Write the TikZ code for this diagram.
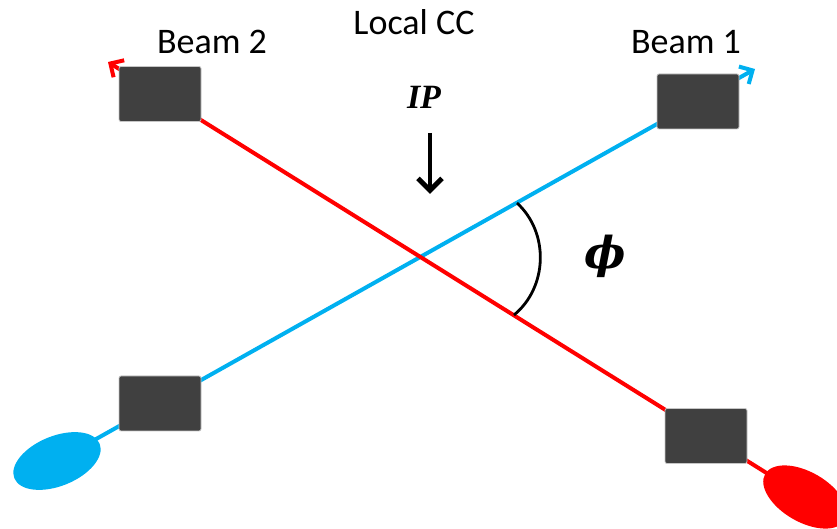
\documentclass[tikz,border=0pt]{standalone}
\usepackage{fontspec}
\usepackage{amsmath, amssymb}
\setmainfont{Carlito}
\newfontfamily\timesfont{Liberation Serif}
\newfontfamily\greekfont{DejaVu Serif}
\usepackage{tikz}
\usetikzlibrary{arrows.meta,shapes.geometric,backgrounds}

\definecolor{beamblue}{RGB}{0,176,240}
\definecolor{magnetgray}{RGB}{64,64,64}

\begin{document}
\begin{tikzpicture}[
  x=0.5pt, y=-0.5pt,
  font=\fontsize{18}{21}\selectfont,
  magnet/.style={draw=gray!45, line width=0.4pt, rounded corners=1pt, fill=magnetgray, minimum width=41pt, minimum height=27.5pt, inner sep=0pt},
  bunch/.style={ellipse, minimum width=46pt, minimum height=25pt, inner sep=0pt},
  beamline/.style={line width=2pt, -{Straight Barb[length=5pt,width=10pt,line width=2pt]}},
  iparr/.style={line width=2pt, -{Straight Barb[length=6pt,width=12pt,line width=2.5pt]}},
  anglearc/.style={line width=1.4pt},
]
\useasboundingbox (0,0) rectangle (837,529);

\node[magnet] (m2up) at (160,94) {};
\node[magnet] (m1up) at (698,101.5) {};
\node[magnet] (m1dn) at (160,403.5) {};
\node[magnet] (m2dn) at (706,436) {};
\node[bunch, fill=beamblue, rotate=22] (b1) at (57,461) {};
\node[bunch, fill=red, rotate=-30] (b2) at (805,497) {};
\coordinate (tip1) at (755,69);
\coordinate (tip2) at (108,62);

\begin{scope}[on background layer]
\draw[beamline, color=beamblue] (b1.center) -- (tip1);
\draw[beamline, color=red] (b2.center) -- (tip2);
\end{scope}

\node (beam2) at (212,42) {Beam 2};
\node (localcc) at (414,22) {Local CC};
\node (beam1) at (686,42) {Beam 1};
\node[font=\timesfont\bfseries\itshape\fontsize{17}{20}\selectfont] (ip) at (424,97) {IP};
\coordinate (ipfrom) at (430,133);
\coordinate (ipto) at (430,194);
\draw[iparr] (ipfrom) -- (ipto);

% crossing angle
\coordinate (arcb) at (517,203);
\coordinate (arcr) at (514,315);
\draw[anglearc] (arcb) to[bend left=49] (arcr);
\node[font=\greekfont\bfseries\itshape\fontsize{22}{26}\selectfont] (phi) at (605,256) {ϕ};
\end{tikzpicture}
\end{document}
